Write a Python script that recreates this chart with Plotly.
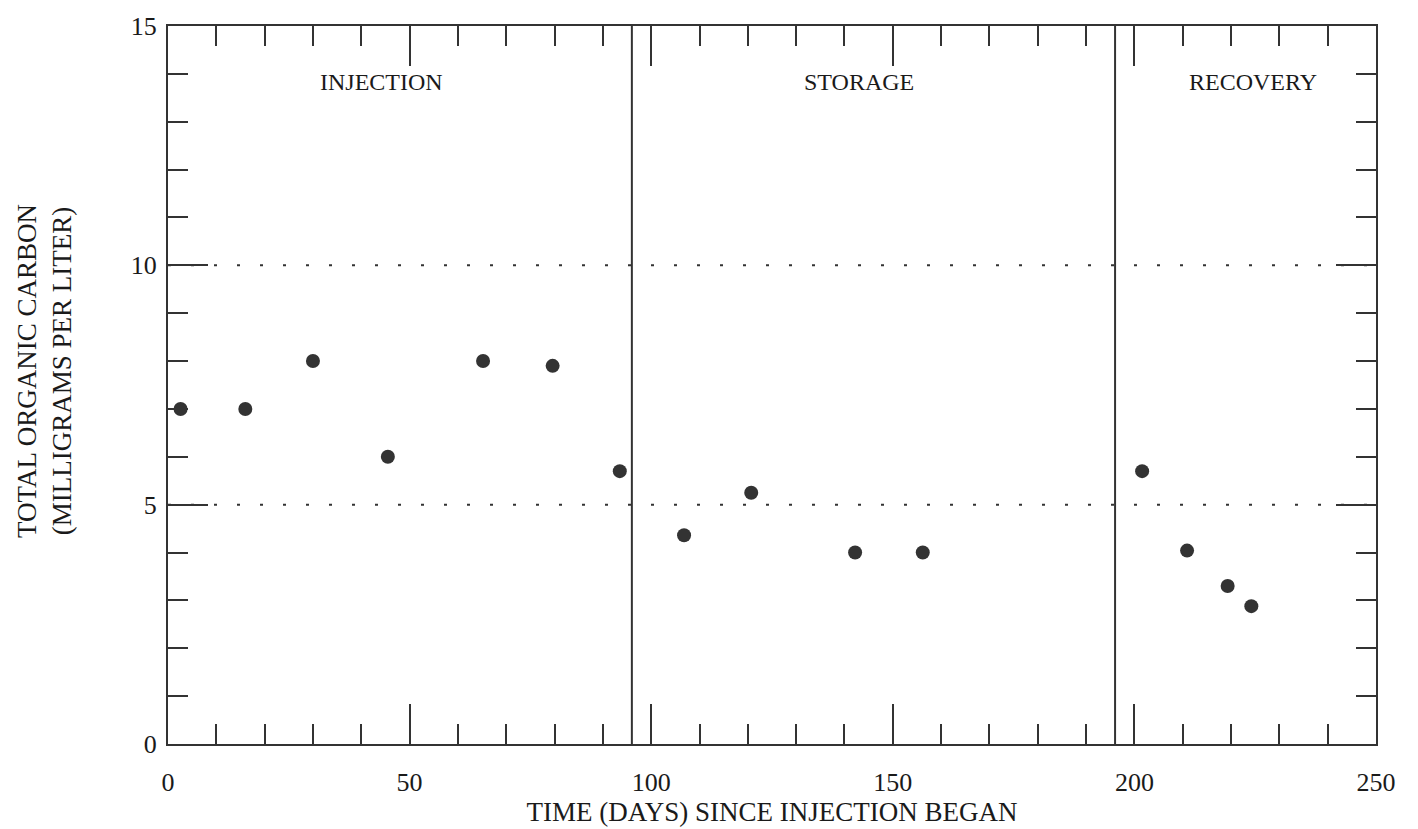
import plotly.graph_objects as go

# Sampling days and measured total organic carbon (mg/L)
days = [2.6, 16, 30, 45.5, 65.2, 79.6, 93.5, 106.8, 120.7, 142.2, 156.2, 201.6, 210.9, 219.3, 224.2]
toc = [7.0, 7.0, 8.0, 6.0, 8.0, 7.9, 5.7, 4.36, 5.25, 4.0, 4.0, 5.7, 4.04, 3.3, 2.88]

# Phase boundaries and labels
phase_bounds = [96, 196]
phase_names = ["INJECTION", "STORAGE", "RECOVERY"]
phase_label_x = [44.2, 143.0, 224.5]
phase_label_y = 13.83

# Reference levels drawn as dotted lines
ref_levels = [5, 10]

x_ticks = [0, 50, 100, 150, 200, 250]
y_ticks = [0, 5, 10, 15]

INK = "#333333"
TEXT = "#1a1a1a"
FONT = "Liberation Serif"

fig = go.Figure()

fig.add_trace(go.Scatter(
    x=days, y=toc, mode="markers",
    marker=dict(size=14, color=INK, line=dict(width=0)),
    showlegend=False, hoverinfo="x+y",
))

for lvl in ref_levels:
    fig.add_shape(type="line", xref="x", yref="y", x0=0, x1=250, y0=lvl, y1=lvl,
                  line=dict(color=INK, width=2, dash="3px,20px"), layer="below")

for b in phase_bounds:
    fig.add_shape(type="line", xref="x", yref="y", x0=b, x1=b, y0=0, y1=15,
                  line=dict(color=INK, width=2))

for name, xl in zip(phase_names, phase_label_x):
    fig.add_annotation(x=xl, y=phase_label_y, xref="x", yref="y", text=name,
                       showarrow=False, font=dict(family=FONT, size=24, color=TEXT))

fig.add_annotation(
    x=-0.131, y=0.52, xref="paper", yref="paper", textangle=-90,
    text="TOTAL ORGANIC CARBON<br>(MILLIGRAMS PER LITER)", showarrow=False,
    font=dict(family=FONT, size=27, color=TEXT), align="center",
)

axis_common = dict(
    showgrid=False, zeroline=False, showline=True, linecolor=INK, linewidth=2,
    mirror="ticks", ticks="inside", tickcolor=INK, tickwidth=2, ticklen=40,
    tickfont=dict(family=FONT, size=26, color=TEXT),
)

fig.update_xaxes(
    range=[0, 250], tickvals=x_ticks, ticktext=[str(v) for v in x_ticks],
    minor=dict(dtick=10, ticks="inside", ticklen=20, tickcolor=INK, tickwidth=2, showgrid=False),
    ticklabelstandoff=14,
    title=dict(text="TIME (DAYS) SINCE INJECTION BEGAN",
               font=dict(family=FONT, size=27, color=TEXT), standoff=0),
    **axis_common,
)
fig.update_yaxes(
    range=[0, 15], tickvals=y_ticks, ticktext=[str(v) for v in y_ticks],
    minor=dict(dtick=1, ticks="inside", ticklen=20, tickcolor=INK, tickwidth=2, showgrid=False),
    ticklabelstandoff=4,
    **axis_common,
)

fig.update_layout(
    width=1418, height=829,
    margin=dict(l=168, r=42, t=19, b=85),
    plot_bgcolor="white", paper_bgcolor="white",
    font=dict(family=FONT, color=TEXT),
)

fig.write_html("out.html")
